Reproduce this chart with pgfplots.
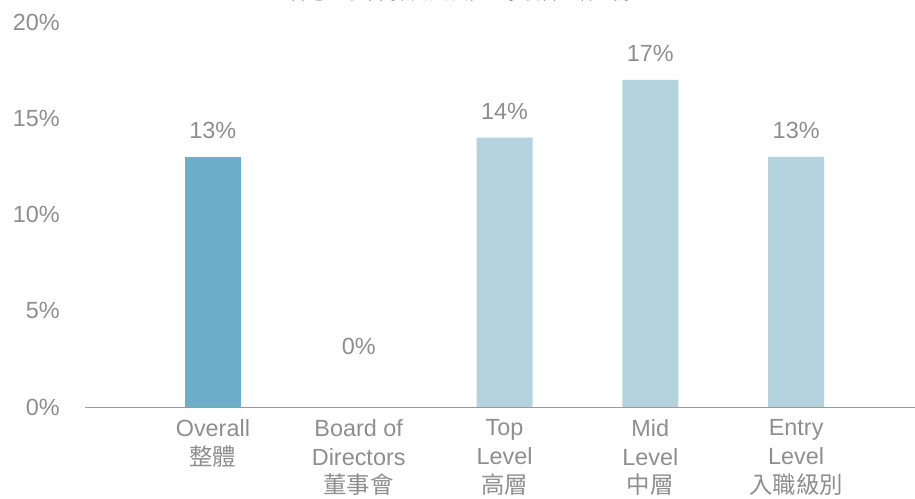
\documentclass[border=0pt]{standalone}
\usepackage{pgfplots}
\pgfplotsset{compat=1.18}
\usepackage{fontspec}
\setmainfont{Liberation Sans}
\newfontfamily\cjk{Noto Sans CJK TC}
\definecolor{dark}{HTML}{6DAFC8}
\definecolor{light}{HTML}{B5D3DF}
\definecolor{txt}{HTML}{8E8E8E}
\definecolor{axl}{HTML}{9A9A9A}
\begin{document}
\begin{tikzpicture}
\begin{axis}[
  at={(0,0)}, anchor=south west,
  scale only axis, width=830bp, height=385bp,
  xmin=-0.877, xmax=4.815, ymin=0, ymax=20,
  axis line style={draw=none},
  major tick length=0pt,
  ytick={0,5,10,15,20},
  yticklabel={\pgfmathprintnumber{\tick}\%},
  /pgf/number format/assume math mode=true,
  yticklabel style={font=\fontsize{23.5}{27}\selectfont, text=txt, anchor=east, inner sep=0pt, xshift=-25bp},
  xtick={0,1,2,3,4},
  xticklabels={{Overall\\{\cjk 整體}},{Board of\\Directors\\{\cjk 董事會}},{Top\\Level\\{\cjk 高層}},{Mid\\Level\\{\cjk 中層}},{Entry\\Level\\{\cjk 入職級別}}},
  xticklabel style={font=\fontsize{23.5}{29}\selectfont, text=txt, align=center, anchor=north, inner sep=0pt, yshift=-12bp},
  nodes near coords={\pgfmathprintnumber{\pgfplotspointmeta}\%},
  every node near coord/.append style={font=\fontsize{23.5}{27}\selectfont, text=txt, anchor=center, yshift=26bp},
  clip=false,
]
\addplot[ybar, bar width=56bp, bar shift=0pt, fill=dark, draw=none] coordinates {(0,13)};
\addplot[ybar, bar width=56bp, bar shift=0pt, fill=light, draw=none] coordinates {(2,14) (3,17) (4,13)};
\addplot[ybar, bar width=56bp, bar shift=0pt, fill=light, draw=none, nodes near coords={}] coordinates {(1,0)};
\draw[axl, line width=1bp] (rel axis cs:0,0) -- (rel axis cs:1,0);
\node[font=\fontsize{23.5}{27}\selectfont, text=txt] at (axis cs:1,3.17) {0\%};
\end{axis}
\node[font=\cjk\fontsize{18}{18}\selectfont, text=black!85, anchor=base] at (375bp,407bp) {香港企業不同職級的女性董事及管理層比例};
\pgfresetboundingbox
\useasboundingbox (-85bp,-92bp) rectangle (830bp,407bp);
\end{tikzpicture}
\end{document}
